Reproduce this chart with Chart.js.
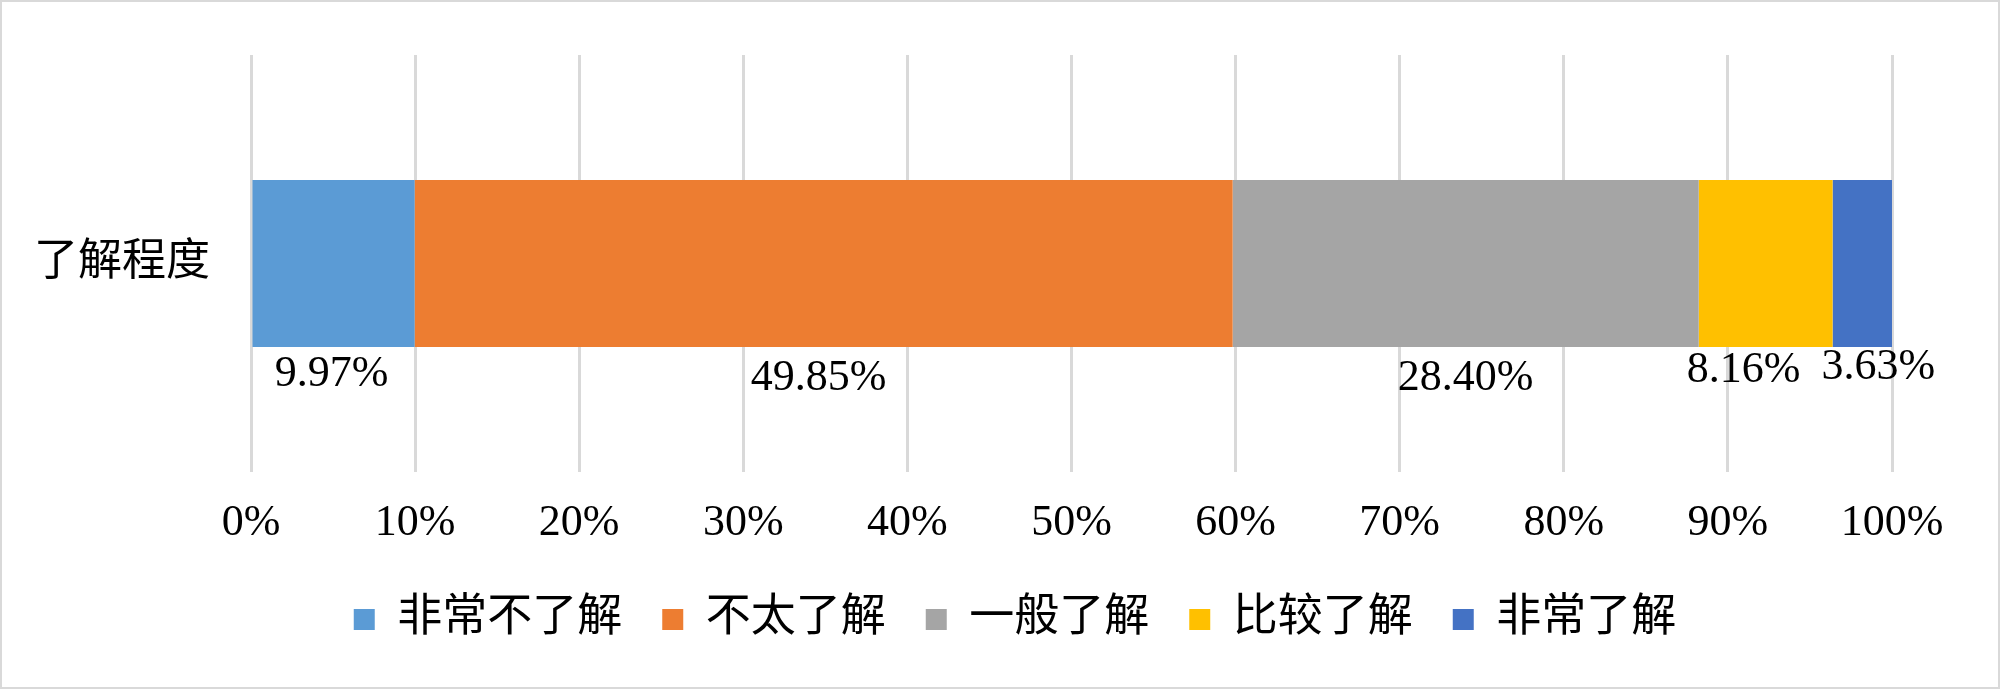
<!DOCTYPE html>
<html>
<head>
<meta charset="utf-8">
<script src="https://cdn.jsdelivr.net/npm/chart.js@4/dist/chart.umd.min.js"></script>
<style>
  html, body { margin: 0; padding: 0; background: #ffffff; }
  #wrap { width: 2000px; height: 689px; position: relative; }
  canvas { display: block; }
</style>
</head>
<body>
<div id="wrap"><canvas id="c" width="2000" height="689"></canvas></div>
<script>
// ---- data ----
const categories = ['了解程度'];
const seriesNames = ['非常不了解', '不太了解', '一般了解', '比较了解', '非常了解'];
const veryUnfamiliar = [9.97];
const notVeryFamiliar = [49.85];
const average = [28.40];
const fairlyFamiliar = [8.16];
const veryFamiliar = [3.63];
const tickLabels = ['0%', '10%', '20%', '30%', '40%', '50%', '60%', '70%', '80%', '90%', '100%'];

// ---- styles ----
const colors = ['#5B9BD5', '#ED7D31', '#A5A5A5', '#FFC000', '#4472C4'];
const serif = '"Liberation Serif", "Times New Roman", "Noto Sans CJK SC", serif';
const cjk = '"Liberation Serif", "Noto Sans CJK SC", serif';
// label nudges relative to the bar (dx from segment centre, dy from bar bottom)
const labelNudge = [
  {dx: -2, dy: 28}, {dx: -5, dy: 32}, {dx: 0, dy: 32}, {dx: -22, dy: 24}, {dx: 16, dy: 21}
];

const seriesValues = [veryUnfamiliar, notVeryFamiliar, average, fairlyFamiliar, veryFamiliar];

const frame = {
  id: 'frame',
  afterDraw(chart) {
    const ctx = chart.ctx;
    ctx.save();
    ctx.strokeStyle = '#d9d9d9';
    ctx.lineWidth = 2;
    ctx.strokeRect(1, 1, chart.width - 2, chart.height - 2);
    ctx.restore();
  }
};

const valueLabels = {
  id: 'valueLabels',
  afterDatasetsDraw(chart) {
    const ctx = chart.ctx;
    ctx.save();
    ctx.font = '44px ' + serif;
    ctx.fillStyle = '#000000';
    ctx.textAlign = 'center';
    ctx.textBaseline = 'middle';
    chart.data.datasets.forEach((ds, i) => {
      const meta = chart.getDatasetMeta(i);
      meta.data.forEach((el, j) => {
        const v = ds.data[j];
        const p = el.getProps(['x', 'y', 'base', 'height'], true);
        const cx = (p.x + p.base) / 2 + labelNudge[i].dx;
        const cy = p.y + p.height / 2 + labelNudge[i].dy;
        ctx.fillText(v.toFixed(2) + '%', cx, cy);
      });
    });
    ctx.restore();
  }
};

new Chart(document.getElementById('c'), {
  type: 'bar',
  data: {
    labels: categories,
    datasets: seriesValues.map((vals, i) => ({
      label: seriesNames[i],
      data: vals,
      backgroundColor: colors[i],
      borderWidth: 0,
      categoryPercentage: 0.4,
      barPercentage: 1.0
    }))
  },
  options: {
    indexAxis: 'y',
    responsive: false,
    animation: false,
    devicePixelRatio: 1,
    layout: { padding: { top: 55, left: 30, right: 0, bottom: 37 } },
    scales: {
      x: {
        stacked: true,
        min: 0,
        max: 100,
        ticks: {
          stepSize: 10,
          padding: 25,
          color: '#000000',
          font: { family: serif, size: 44 },
          callback: (v, idx) => tickLabels[idx]
        },
        grid: { color: '#d9d9d9', lineWidth: 3, drawTicks: false },
        border: { display: false },
        afterFit(scale) {
          scale.paddingRight = 108;
          scale.height = 85;
        }
      },
      y: {
        stacked: true,
        ticks: {
          padding: 41,
          color: '#000000',
          font: { family: cjk, size: 44 }
        },
        grid: { display: false, drawTicks: false },
        border: { display: false },
        afterFit(scale) {
          scale.width = 221;
          scale.paddingTop = 0;
          scale.paddingBottom = 0;
        }
      }
    },
    plugins: {
      legend: {
        position: 'bottom',
        align: 'center',
        labels: {
          boxWidth: 21,
          boxHeight: 21,
          padding: 40,
          color: '#000000',
          font: { family: cjk, size: 45 }
        }
      },
      tooltip: { enabled: false }
    }
  },
  plugins: [valueLabels, frame]
});
</script>
</body>
</html>
